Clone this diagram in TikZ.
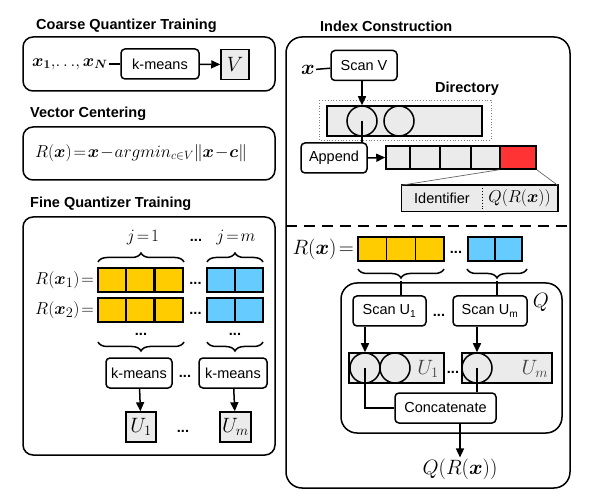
\documentclass[tikz,border=0pt]{standalone}
\usepackage{amsmath}
\usepackage{fontspec}
\setsansfont{Liberation Sans}
\usetikzlibrary{arrows.meta, decorations.pathreplacing}
\definecolor{cellgold}{HTML}{FFCC00}
\definecolor{cellsky}{HTML}{66CCFF}
\definecolor{cellred}{HTML}{FF3333}
\definecolor{bookgray}{HTML}{EBEBEB}
\newcommand\vx{\boldsymbol{x}}
\newcommand\mathbig{\fontsize{20}{24}\selectfont}
\newcommand\mathmid{\fontsize{17}{20}\selectfont}
\newcommand\sansbox{\sffamily\fontsize{14.5}{17}\selectfont}
\tikzset{
  title/.style={anchor=west, inner sep=0pt, font=\sffamily\bfseries\fontsize{14.5}{17}\selectfont},
  panel/.style={draw, line width=1.5pt, rounded corners=10pt},
  op/.style={draw, fill=white, line width=1.5pt, rounded corners=4pt,
    minimum height=30pt, inner sep=2pt, font=\sansbox},
  book/.style={draw, fill=bookgray, line width=1.5pt, minimum height=30pt, inner sep=0pt},
  cell/.style={draw, line width=1.5pt, minimum width=28pt, minimum height=24pt, inner sep=0pt},
  ring/.style={circle, draw, line width=1.5pt, minimum size=30pt, inner sep=0pt},
  mathtxt/.style={inner sep=1pt, font=\mathbig},
  dots/.style={inner sep=0pt, font=\sffamily\bfseries\fontsize{14.5}{17}\selectfont},
  link/.style={line width=1.5pt},
  arr/.style={line width=1.5pt, -{Triangle[length=9pt, width=8pt]}},
  brc/.style={decorate, decoration={brace, amplitude=9pt}, line width=1.5pt},
}
\begin{document}
\begin{tikzpicture}[x=1pt, y=-1pt]
\useasboundingbox (0,0) rectangle (590,500);
% coarse quantizer training
\node[title] (tcoarse) at (36,26) {Coarse Quantizer Training};
\draw[panel] (23,37) rectangle (275,91);
\node[mathtxt, anchor=west, font=\mathmid] (xs) at (31,64)
  {$\vx_{\boldsymbol{1}},\mkern-3mu\ldots\mkern-3mu,\vx_{\boldsymbol{N}}$};
\node[op, minimum width=78pt] (kmV) at (160,64) {k-means};
\node[book, minimum width=28pt, font=\mathbig] (V) at (235,64.5) {$V$};
\draw[link] (xs) -- (kmV);
\draw[arr] (kmV) -- (V);
% vector centering
\node[title] (tcenter) at (30,114) {Vector Centering};
\draw[panel] (23,127) rectangle (275,180);
\node[mathtxt, font=\fontsize{18}{21}\selectfont] (resid) at (141,153)
  {$R(\vx)\!=\!\vx\!-\!argmin_{c\in V}\|\vx\!-\!\boldsymbol{c}\|$};
% fine quantizer training
\node[title] (tfine) at (30,204) {Fine Quantizer Training};
\draw[panel] (23,217) rectangle (275,455);
\node[mathtxt, font=\fontsize{18}{22}\selectfont] (j1) at (143,238) {$j\!=\!1$};
\node[mathtxt, font=\fontsize{18}{22}\selectfont] (jm) at (236,238) {$j\!=\!m$};
\node[dots] (jdots) at (196,240) {...};
\foreach \r/\y in {1/280, 2/310} {
  \foreach \i/\x in {1/112, 2/140, 3/169}
    \node[cell, fill=cellgold] (g\r\i) at (\x,\y) {};
  \foreach \i/\x in {1/221, 2/249}
    \node[cell, fill=cellsky] (s\r\i) at (\x,\y) {};
  \node[mathtxt, anchor=east, font=\fontsize{19}{22}\selectfont] (R\r) at (95,\y) {$R(\vx_{\r})\!=$};
  \node[dots] (rdots\r) at (195.5,\y+3) {...};
}
\node[dots] (gdots) at (141,334) {...};
\node[dots] (sdots) at (235,334) {...};
\draw[brc] (98,262) -- (184,262);
\draw[brc] (207,262) -- (263,262);
\draw[brc] (184,342) -- (98,342);
\draw[brc] (263,342) -- (207,342);
\node[op, minimum width=66pt] (kmA) at (139,373) {k-means};
\node[op, minimum width=68pt] (kmB) at (233,373) {k-means};
\node[dots] (kmdots) at (185,376) {...};
\node[book, minimum width=30pt, font=\mathbig] (UA) at (141,427) {$U_1$};
\node[book, minimum width=31pt, font=\mathbig] (UB) at (235.5,427) {$U_m$};
\node[dots] (udots) at (183,431) {...};
\draw[arr] (kmA) -- (UA);
\draw[arr] (kmB) -- (UB);
% index construction
\node[title] (tindex) at (320,26) {Index Construction};
\draw[panel, rounded corners=16pt] (286,37) rectangle (570,488);
\draw[line width=1.5pt, dash pattern=on 11pt off 7pt] (286,226) -- (570,226);
\node[mathtxt] (xq) at (308,70) {$\vx$};
\node[op, minimum width=66pt] (scanV) at (364,65.5) {Scan V};
\draw[link] (xq) -- (scanV);
\node[title, anchor=center] (tdir) at (467,89) {Directory};
\draw[gray, line width=0.8pt, dotted] (319,100) rectangle (491,140);
\node[book, minimum width=155pt] (dir) at (404.5,121) {};
\node[ring] (v1) at (362,121) {};
\node[ring] (v2) at (399,121) {};
\draw[arr] (v1 |- scanV.south) -- (v1.north);
\node[op, minimum width=66pt] (append) at (334,158) {Append};
\draw[link] (v1.center) -- (v1 |- append.north);
\foreach \i/\a/\b in {1/386/410, 2/410/440, 3/440/471, 4/471/500}
  \node[cell, fill=bookgray, minimum width=\b-\a, minimum height=23pt] (e\i) at ({(\a+\b)/2},157.5) {};
\node[cell, fill=cellred, minimum width=36pt, minimum height=23pt] (e5) at (518,157.5) {};
\draw[arr] (append.east) -- (e1.west);
\node[cell, fill=bookgray, minimum width=80pt, minimum height=25pt, draw=none, font=\sansbox] (idf) at (442,198.5) {Identifier};
\node[cell, fill=bookgray, minimum width=75pt, minimum height=25pt, draw=none, font=\fontsize{17}{20}\selectfont] (idq) at (519.5,198.5) {$Q(R(\vx))$};
\draw[line width=1.5pt] (idf.north west) rectangle (idq.south east);
\draw[line width=0.9pt, dotted] (idf.north east) -- (idf.south east);
\draw[line width=0.7pt, gray!80!black] (e5.south west) -- (idf.north west);
\draw[line width=0.7pt, gray!80!black] (e5.south east) -- (idq.north east);
% encoding of R(x)
\node[mathtxt, anchor=east] (Rx) at (355,249) {$R(\vx)\!=$};
\foreach \i/\x in {1/372.3, 2/401, 3/429.7}
  \node[cell, fill=cellgold, minimum width=28.7pt] (y\i) at (\x,249) {};
\foreach \i/\x in {1/481.5, 2/508.5}
  \node[cell, fill=cellsky, minimum width=27pt] (b\i) at (\x,249) {};
\node[dots] (ydots) at (456,252) {...};
\draw[brc] (444,269) -- (358,269);
\draw[brc] (527,269) -- (467,269);
\coordinate (tipA) at (401,281);
\coordinate (tipB) at (497,281);
\draw[panel, rounded corners=16pt] (341,283) rectangle (562,433);
\node[mathtxt] (qlbl) at (541,302) {$Q$};
\node[op, minimum width=73pt] (scanA) at (389.5,311) {Scan U\textsubscript{1}};
\node[op, minimum width=74pt] (scanB) at (490,311) {Scan U\textsubscript{m}};
\node[dots] (scandots) at (439,315) {...};
\draw[link] (tipA) -- (tipA |- scanA.north);
\draw[link] (tipB) -- (tipB |- scanB.north);
\node[book, minimum width=95pt] (bookA) at (396.5,368) {};
\node[book, minimum width=90pt] (bookB) at (507,368) {};
\node[ring] (a1) at (365,368) {};
\node[ring] (a2) at (395,368) {};
\node[ring] (m1) at (477,368) {};
\node[mathtxt, text=black!75] (ulA) at (428,369) {$U_1$};
\node[mathtxt, text=black!75] (ulB) at (535,369) {$U_m$};
\node[dots] (bookdots) at (453,372) {...};
\draw[arr] (a1 |- scanA.south) -- (a1.north);
\draw[arr] (m1 |- scanB.south) -- (m1.north);
\node[op, minimum width=101pt] (concat) at (445.5,408) {Concatenate};
\draw[link] (a1.center) |- (concat.west);
\draw[link] (m1.center) -- (m1 |- concat.north);
\node[mathtxt] (qout) at (460,469) {$Q(R(\vx))$};
\draw[arr] (qout |- concat.south) -- (qout.north);
\end{tikzpicture}
\end{document}
